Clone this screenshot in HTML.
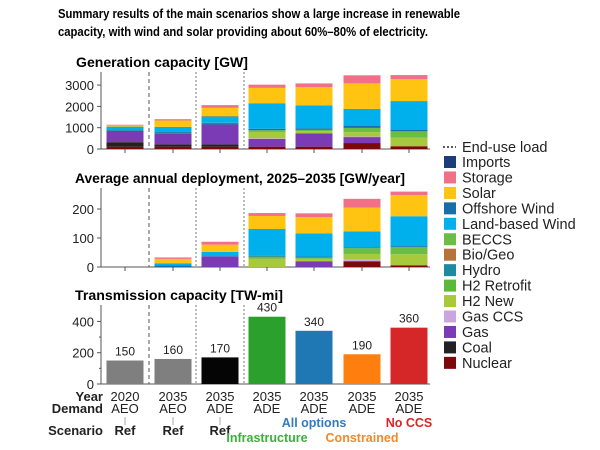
<!DOCTYPE html>
<html><head><meta charset="utf-8"><style>
html,body{margin:0;padding:0;background:#fff;}
svg{display:block;font-family:"Liberation Sans",Arial,sans-serif;}
</style></head><body>
<svg id="s" width="600" height="450" viewBox="0 0 600 450" xmlns="http://www.w3.org/2000/svg">
<text x="58" y="18" font-size="13" font-weight="bold" textLength="402" lengthAdjust="spacingAndGlyphs">Summary results of the main scenarios show a large increase in renewable</text>
<text x="58" y="36" font-size="13" font-weight="bold" textLength="370" lengthAdjust="spacingAndGlyphs">capacity, with wind and solar providing about 60%–80% of electricity.</text>
<text x="76" y="67" font-size="14" font-weight="bold" textLength="172" lengthAdjust="spacingAndGlyphs">Generation capacity [GW]</text>
<text x="75" y="183" font-size="14" font-weight="bold" textLength="330" lengthAdjust="spacingAndGlyphs">Average annual deployment, 2025–2035 [GW/year]</text>
<text x="75" y="300" font-size="14" font-weight="bold" textLength="208" lengthAdjust="spacingAndGlyphs">Transmission capacity [TW-mi]</text>
<g id="g"></g>
</svg>
<script>
var C={nuc:"#7a0a0a",coal:"#222",gas:"#7b3bb5",gccs:"#c9a6e0",h2n:"#a9c93d",h2r:"#5cb83a",hyd:"#1d8aa0",bio:"#b5733a",bec:"#6cbd45",land:"#00b0ec",off:"#1a6ea8",sol:"#ffc312",sto:"#f26f88",imp:"#1c3d7a"};
var xs=[125,173,220,267,314,362,409],bw=37,out="";
function r(x,y,w,h,f){out+='<rect x="'+x+'" y="'+y+'" width="'+w+'" height="'+h+'" fill="'+f+'"/>';}
function t(x,y,s,o){o=o||{};out+='<text x="'+x+'" y="'+y+'" font-size="'+(o.fs||13)+'" text-anchor="'+(o.a||"middle")+'" fill="'+(o.c||"#222")+'"'+(o.b?' font-weight="bold"':'')+'>'+s+'</text>';}
function l(x1,y1,x2,y2,c,d){out+='<line x1="'+x1+'" y1="'+y1+'" x2="'+x2+'" y2="'+y2+'" stroke="'+(c||"#555")+'" stroke-width="1"'+(d?' stroke-dasharray="'+d+'"':'')+'/>';}
function panel(y0,yt,scale,ticks,data){
 l(101,yt,101,y0);l(101,y0,430,y0);
 ticks.forEach(function(v){var y=y0-v*scale;l(97,y,101,y);t(94,y+5,v,{a:"end"});});
 [149,196,244].forEach(function(x,i){l(x,yt,x,y0,i==0?"#555":"#777",i==0?"4,3":"2,2");});
 xs.forEach(function(x){l(x,y0,x,y0+4);});
 data.forEach(function(st,i){var acc=0;st.forEach(function(p){var h=p[1]*scale;r(xs[i]-bw/2,y0-acc-h,bw,h,C[p[0]]);acc+=h;});});
}
panel(149,72,0.0213,[0,1000,2000,3000],[
[["nuc",110],["coal",210],["gas",530],["hyd",80],["land",120],["sol",60],["sto",30]],
[["nuc",110],["coal",110],["gas",500],["hyd",80],["land",240],["sol",300],["sto",60]],
[["nuc",110],["coal",110],["gas",930],["hyd",80],["land",270],["off",30],["sol",400],["sto",130]],
[["nuc",110],["gas",370],["gccs",20],["h2n",300],["bec",80],["off",70],["land",1200],["sol",720],["sto",150]],
[["nuc",110],["gas",630],["h2n",100],["bec",60],["off",70],["land",1080],["sol",850],["sto",180]],
[["nuc",280],["gas",280],["gccs",30],["h2n",200],["bec",200],["off",90],["land",800],["sol",1200],["sto",380]],
[["nuc",130],["h2n",400],["bec",300],["off",80],["land",1340],["sol",1030],["sto",190]]]);
panel(267,188,0.29,[0,100,200],[
[],
[["off",5],["land",8],["sol",15],["sto",5]],
[["gas",37],["land",15],["sol",25],["sto",10]],
[["h2n",28],["bec",8],["off",3],["land",92],["sol",45],["sto",10]],
[["gas",20],["h2n",8],["bec",5],["off",3],["land",80],["sol",56],["sto",13]],
[["nuc",20],["gccs",5],["h2n",20],["bec",20],["off",3],["land",55],["sol",82],["sto",30]],
[["nuc",6],["h2n",38],["bec",25],["off",3],["land",103],["sol",73],["sto",12]]]);
// transmission
var ty0=384,tyt=305,sc=0.1565;
l(101,tyt,101,ty0);l(101,ty0,430,ty0);
[0,200,400].forEach(function(v){var y=ty0-v*sc;l(97,y,101,y);t(94,y+5,v,{a:"end"});});
[100,300].forEach(function(v){var y=ty0-v*sc;l(99,y,101,y);});
[149,196,244].forEach(function(x,i){l(x,tyt,x,ty0,i==0?"#555":"#777",i==0?"4,3":"2,2");});
var tv=[150,160,170,430,340,190,360],tc=["#7f7f7f","#7f7f7f","#050505","#2ca02c","#1f77b4","#ff7f0e","#d62728"];
tv.forEach(function(v,i){var h=v*sc;r(xs[i]-bw/2,ty0-h,bw,h,tc[i]);t(xs[i],ty0-h-5,v,{fs:12});});
// x labels
t(103,401,"Year",{a:"end",b:1});t(103,413,"Demand",{a:"end",b:1});t(103,435,"Scenario",{a:"end",b:1});
var yr=["2020","2035","2035","2035","2035","2035","2035"],dm=["AEO","AEO","ADE","ADE","ADE","ADE","ADE"];
xs.forEach(function(x,i){t(x,401,yr[i]);t(x,413,dm[i]);if(i<3){l(x,417,x,425,"#aaa");t(x,435,"Ref",{b:1});}});
t(314,427,"All options",{b:1,c:"#2f7cc0",fs:12.5});t(409,427,"No CCS",{b:1,c:"#d62728",fs:12.5});
t(267,442,"Infrastructure",{b:1,c:"#3fae3f",fs:12.5});t(362,442,"Constrained",{b:1,c:"#f08a2a",fs:12.5});
// legend
out+='<line x1="443" y1="147" x2="456" y2="147" stroke="#222" stroke-width="1.5" stroke-dasharray="2,2"/>';
t(462,152,"End-use load",{a:"start",fs:14.5});
var lg=[["imp","Imports"],["sto","Storage"],["sol","Solar"],["off","Offshore Wind"],["land","Land-based Wind"],["bec","BECCS"],["bio","Bio/Geo"],["hyd","Hydro"],["h2r","H2 Retrofit"],["h2n","H2 New"],["gccs","Gas CCS"],["gas","Gas"],["coal","Coal"],["nuc","Nuclear"]];
lg.forEach(function(e,i){var y=162+i*15.45;r(444,y-6,12,12,C[e[0]]);t(462,y+5,e[1],{a:"start",fs:14.5});});
document.getElementById("g").innerHTML=out;
</script>
</body></html>
